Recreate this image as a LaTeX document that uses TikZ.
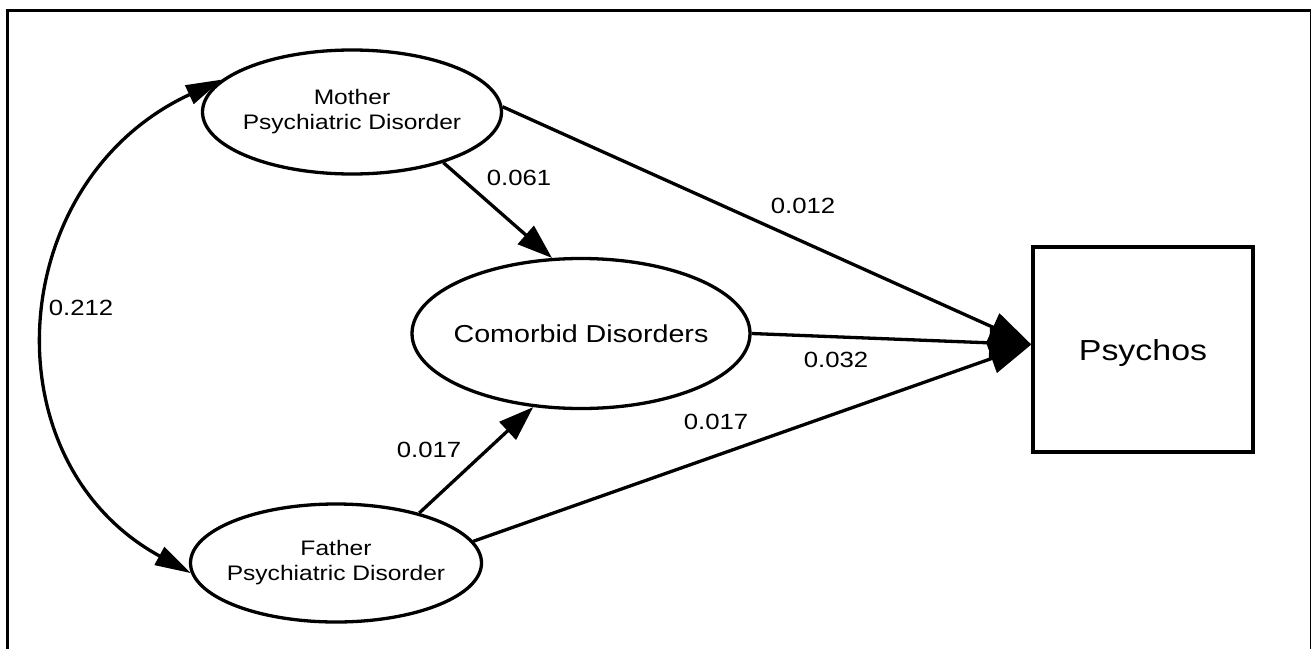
\documentclass[tikz,border=0pt]{standalone}
\usepackage{fontspec}
\setmainfont{Liberation Sans}[FakeStretch=1.17]
\usetikzlibrary{arrows.meta,shapes.geometric,calc}
\begin{document}
\begin{tikzpicture}[x=1pt,y=-1pt, line width=3.3pt,
  ell/.style={draw, ellipse, inner sep=0pt},
  pairtext/.style={font=\fontsize{21}{25}\selectfont},
  lab/.style={font=\fontsize{22}{26}\selectfont, inner sep=0pt},
  arr/.style={-{Triangle[length=35pt,width=24pt]}},
  parr/.style={-{Triangle[length=42pt,width=30pt]}},
  darr/.style={{Triangle[length=36pt,width=20pt]}-{Triangle[length=36pt,width=20pt]}}]
\useasboundingbox (0,0) rectangle (1311,648);
\fill[white] (0,0) rectangle (1311,648);
\draw[line width=3pt] (7,700) -- (7,10) -- (1311.5,10) -- (1311.5,700);

\node[ell, pairtext, minimum width=299pt, minimum height=124pt] (mother) at (352,112)
  {\makebox[0pt]{\begin{tabular}{@{}c@{}}Mother\\Psychiatric Disorder\end{tabular}}};
\node[ell, pairtext, minimum width=291pt, minimum height=118pt] (father) at (336,563)
  {\makebox[0pt]{\begin{tabular}{@{}c@{}}Father\\Psychiatric Disorder\end{tabular}}};
\node[ell, font=\fontsize{24.5}{28}\selectfont, minimum width=338pt, minimum height=150pt] (com) at (581,333.5)
  {\makebox[0pt]{Comorbid Disorders}};
\node[draw, rectangle, inner sep=0pt, text depth=0pt, minimum width=220pt, minimum height=205pt,
  font=\fontsize{29}{34}\selectfont] (psy) at (1143,349.5) {Psychos};

\coordinate (pin) at ($(psy.west)+(0,-5)$);
\draw[parr] (mother.2) -- (pin);
\draw[parr] (com.east) -- (pin);
\draw[parr] (father.9) -- (pin);
\draw[arr] (mother.-29) -- (com.111);
\draw[arr] (father.31) -- (com.237);
\draw[darr] (mother.166) .. controls ($(mother.166)+(-218,101)$) and ($(father.184)+(-205,-112)$) .. (father.184);

\node[lab] (l1) at (519,178) {0.061};
\node[lab] (l2) at (803,206) {0.012};
\node[lab] (l3) at (81,308) {0.212};
\node[lab] (l4) at (836,360) {0.032};
\node[lab] (l5) at (716,422) {0.017};
\node[lab] (l6) at (429,450) {0.017};
\end{tikzpicture}
\end{document}
